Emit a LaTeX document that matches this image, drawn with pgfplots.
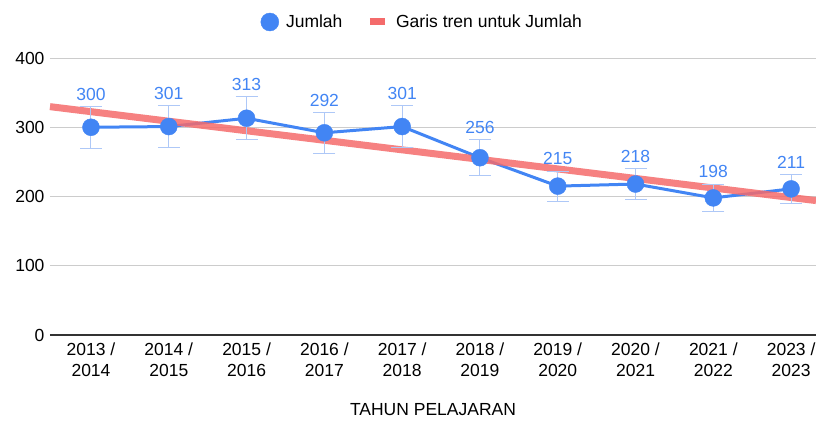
\documentclass[border=0pt]{standalone}
\usepackage{fontspec}
\setmainfont{Liberation Sans}
\usepackage{pgfplots}
\usepackage{pgfplotstable}
\pgfplotsset{compat=1.18}
\definecolor{gblue}{HTML}{4285F4}
\definecolor{gred}{HTML}{F46B6B}
\definecolor{ebar}{HTML}{AEC8F7}
\definecolor{gridc}{HTML}{CCCCCC}
\definecolor{axisdark}{HTML}{333333}

\pgfplotstableread{
x y
0 300
1 301
2 313
3 292
4 301
5 256
6 215
7 218
8 198
9 211
}\datatable

\pgfplotstableread{
x y
-0.527 329.75
9.32 194.1
}\trendtable

\begin{document}
\begin{tikzpicture}[font=\fontsize{17.5bp}{21bp}\selectfont]
\useasboundingbox (-50bp,-86bp) rectangle (766bp,335bp);
\begin{axis}[
  scale only axis, width=766bp, height=277bp,
  xmin=-0.527, xmax=9.32, ymin=0, ymax=400,
  ytick={0,100,200,300,400},
  xtick={0,...,9},
  xticklabels={{2013 /\\2014},{2014 /\\2015},{2015 /\\2016},{2016 /\\2017},{2017 /\\2018},{2018 /\\2019},{2019 /\\2020},{2020 /\\2021},{2021 /\\2022},{2023 /\\2023}},
  xticklabel style={align=center, font=\fontsize{17.5bp}{21bp}\selectfont, yshift=-4bp},
  yticklabel style={xshift=-2bp},
  major tick length=0pt,
  axis x line*=bottom,
  axis y line*=left,
  y axis line style={draw=none},
  x axis line style={axisdark, line width=1.3bp},
  ymajorgrids, grid style={gridc, line width=1bp},
  xlabel={TAHUN PELAJARAN},
  xlabel style={yshift=-20bp},
  /pgf/number format/assume math mode=true,
  clip=false,
  legend style={at={(0.486,1.13)}, anchor=center, draw=none, fill=none,
    legend columns=2, font=\fontsize{17.5bp}{21bp}\selectfont,
    /tikz/every even column/.style={column sep=22bp}},
]
\addlegendimage{legend image code/.code={\fill[gblue] (0bp,0bp) circle (9bp); \path (14bp,0bp);}}
\addlegendentry{Jumlah}
\addlegendimage{legend image code/.code={\draw[gred, line width=7bp] (0bp,0bp) -- (15bp,0bp); \path (24bp,0bp);}}
\addlegendentry{Garis tren untuk Jumlah}

\addplot[gblue, line width=3bp, forget plot] table[x=x,y=y] {\datatable};
\addplot[gred, line width=7bp, opacity=0.85, forget plot] table[x=x,y=y] {\trendtable};
\addplot[only marks, mark=*, mark size=8.5bp, mark options={fill=gblue, draw=gblue},
  error bars/.cd, y dir=both, y fixed relative=0.1,
  error bar style={ebar, line width=1bp},
  error mark options={rotate=90, ebar, mark size=11bp, line width=1bp},
  /pgfplots/.cd, forget plot,
  visualization depends on={y \as \yv},
  nodes near coords,
  every node near coord/.style={anchor=south, text=gblue, inner sep=0pt,
    yshift={(0.06925*\yv+6)*1bp}, font=\fontsize{17.5bp}{21bp}\selectfont},
  ] table[x=x,y=y] {\datatable};
\end{axis}
\end{tikzpicture}
\end{document}
